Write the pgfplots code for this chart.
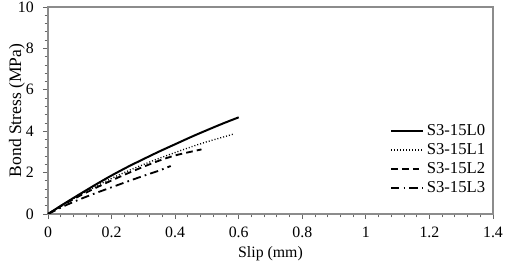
\documentclass[border=0pt]{standalone}
\usepackage{fontspec}
\setmainfont{Liberation Serif}
\usepackage{pgfplots}
\pgfplotsset{compat=1.18}
\begin{document}
\begin{tikzpicture}
\begin{axis}[
  scale only axis,
  width=267pt, height=124.2pt,
  xmin=0, xmax=1.4, ymin=0, ymax=10,
  xtick={0,0.2,...,1.4}, ytick={0,2,...,10},
  minor x tick num=4, minor y tick num=4,
  tick align=outside,
  major tick length=3pt, minor tick length=2pt,
  axis line style={draw=black!45, line width=0.8pt},
  every tick/.style={black!60, line width=0.5pt},
  xtick pos=bottom, ytick pos=left,
  /pgf/number format/assume math mode=true,
  xticklabel style={/pgf/number format/fixed, font=\fontsize{9.5}{12}\selectfont, yshift=-1.5pt},
  yticklabel style={font=\fontsize{9.5}{12}\selectfont, xshift=-2pt},
  xlabel={Slip (mm)}, ylabel={Bond Stress (MPa)},
  xlabel style={font=\fontsize{9.5}{12}\selectfont, yshift=2pt},
  ylabel style={font=\fontsize{10.5}{12}\selectfont, yshift=-11pt},
  legend style={draw=none, fill=none, at={(1.0,0.263)}, anchor=east,
    font=\fontsize{10}{12}\selectfont, row sep=-0.8pt, cells={anchor=west},
    nodes={inner xsep=1.5pt}},
  legend cell align=left,
  legend image code/.code={\draw[#1] (0cm,0cm) -- (0.68cm,0cm);},
]
\addplot[black, line width=1.2pt, smooth] coordinates {
 (0,0) (0.05,0.49) (0.1,0.96) (0.15,1.42) (0.2,1.86) (0.25,2.27) (0.3,2.65) (0.35,3.02) (0.4,3.37) (0.45,3.72) (0.5,4.05) (0.55,4.37) (0.6,4.67)};
\addlegendentry{S3-15L0}
\addplot[black, line width=0.8pt, dash pattern=on 0.6pt off 1.2pt, smooth] coordinates {
 (0,0) (0.05,0.48) (0.1,0.92) (0.15,1.33) (0.2,1.72) (0.25,2.07) (0.3,2.39) (0.35,2.69) (0.4,2.97) (0.45,3.24) (0.5,3.49) (0.55,3.71) (0.583,3.86)};
\addlegendentry{S3-15L1}
\addplot[black, line width=1.1pt, dash pattern=on 4pt off 2.5pt, smooth] coordinates {
 (0,0) (0.05,0.46) (0.1,0.88) (0.15,1.26) (0.2,1.62) (0.25,1.96) (0.3,2.28) (0.35,2.58) (0.4,2.83) (0.45,3.01) (0.483,3.12)};
\addlegendentry{S3-15L2}
\addplot[black, line width=1.1pt, dash pattern=on 5pt off 2.5pt on 1pt off 2.5pt, smooth] coordinates {
 (0,0) (0.05,0.38) (0.1,0.71) (0.15,1.01) (0.2,1.29) (0.25,1.57) (0.3,1.84) (0.35,2.10) (0.386,2.32)};
\addlegendentry{S3-15L3}
\coordinate (bbsw) at (rel axis cs:0,0);
\coordinate (bbne) at (rel axis cs:1,1);
\end{axis}
\pgfresetboundingbox
\path[use as bounding box] ([xshift=-28.8pt,yshift=-29.4pt]bbsw) rectangle ([xshift=7.2pt,yshift=4.2pt]bbne);
\end{tikzpicture}
\end{document}
